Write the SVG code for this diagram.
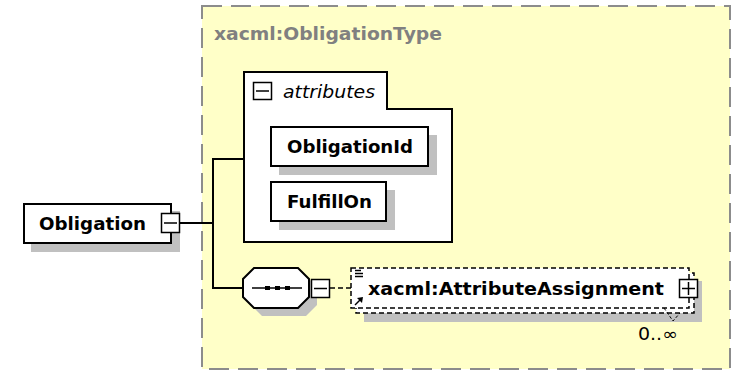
<svg xmlns="http://www.w3.org/2000/svg" width="734" height="371" viewBox="0 0 734 371">
  <style>
    .frame{fill:#ffffc8;stroke:#8c8c8c;stroke-width:2;stroke-dasharray:20 9}
    .box{fill:#fff;stroke:#000;stroke-width:2}
    .shadow{fill:#c0c0c0}
    .name{font-family:"DejaVu Sans",sans-serif;font-weight:bold;font-size:18px;fill:#000}
    .wire{fill:none;stroke:#000;stroke-width:2}
    .dashed{fill:#fff;stroke:#000;stroke-width:1.5;stroke-dasharray:5 3}
    .icon{fill:#fff;stroke:#000;stroke-width:1.5}
    .glyph{stroke:#000;stroke-width:1.5;fill:none}
  </style>

  <rect width="734" height="371" fill="#fff"/>

  <!-- complex type frame -->
  <g id="obligation-type">
    <rect class="frame" x="202" y="6" width="528" height="363"/>
    <text x="214" y="40" class="name" fill="#808080" style="fill:#808080" textLength="228" lengthAdjust="spacingAndGlyphs">xacml:ObligationType</text>
  </g>

  <!-- tree connectors -->
  <g id="connectors">
    <polyline class="wire" points="180,223 213,223"/>
    <polyline class="wire" points="243,159 213,159 213,288 243,288"/>
    <line x1="330" y1="288" x2="351" y2="288" stroke="#000" stroke-width="1.5" stroke-dasharray="5 3"/>
  </g>

  <!-- root element -->
  <g id="obligation">
    <rect class="shadow" x="31" y="211" width="149" height="41"/>
    <rect class="box" x="24" y="204" width="147" height="39"/>
    <text x="39" y="230" class="name" textLength="107" lengthAdjust="spacingAndGlyphs">Obligation</text>
    <rect class="icon" x="161.5" y="213.5" width="18" height="19"/>
    <line class="glyph" x1="164" y1="223" x2="177" y2="223"/>
  </g>

  <!-- attribute group -->
  <g id="attributes">
    <path class="box" d="M244,72 H387 V109 H452 V242 H244 Z"/>
    <rect class="icon" x="253.5" y="82.5" width="18" height="17"/>
    <line class="glyph" x1="256" y1="91" x2="269" y2="91"/>
    <text x="283" y="98" font-family="DejaVu Sans, sans-serif" font-style="italic" font-size="18" textLength="92" lengthAdjust="spacingAndGlyphs">attributes</text>
  </g>

  <g id="obligation-id">
    <rect class="shadow" x="279" y="135" width="158" height="40"/>
    <rect class="box" x="271" y="127" width="157" height="39"/>
    <text x="287" y="153" class="name" textLength="126" lengthAdjust="spacingAndGlyphs">ObligationId</text>
  </g>

  <g id="fulfill-on">
    <rect class="shadow" x="279" y="190" width="116" height="40"/>
    <rect class="box" x="271" y="182" width="115" height="39"/>
    <text x="287" y="208" class="name" textLength="85" lengthAdjust="spacingAndGlyphs">FulfillOn</text>
  </g>

  <!-- sequence compositor -->
  <g id="sequence">
    <polygon class="shadow" points="262,276 306,276 317,287 317,305 306,316 262,316 251,305 251,287"/>
    <polygon class="box" points="254,268 298,268 309,279 309,297 298,308 254,308 243,297 243,279"/>
    <line x1="252" y1="288" x2="302" y2="288" stroke="#000" stroke-width="1.5"/>
    <rect x="265" y="286" width="5" height="4" fill="#000"/>
    <rect x="275" y="286" width="5" height="4" fill="#000"/>
    <rect x="285" y="286" width="5" height="4" fill="#000"/>
    <rect class="icon" x="311.5" y="279.5" width="18" height="18"/>
    <line class="glyph" x1="314" y1="288.5" x2="327" y2="288.5"/>
  </g>

  <!-- repeated element reference -->
  <g id="attribute-assignment">
    <rect class="shadow" x="364" y="281" width="338" height="41"/>
    <rect class="dashed" x="356" y="273" width="338" height="40"/>
    <rect class="dashed" x="351" y="268" width="338" height="40"/>
    <line class="glyph" x1="355" y1="270.5" x2="361" y2="270.5" stroke-width="1.2"/>
    <line class="glyph" x1="355" y1="273.5" x2="363" y2="273.5" stroke-width="1.2"/>
    <line class="glyph" x1="355" y1="276.5" x2="363" y2="276.5" stroke-width="1.2"/>
    <line class="glyph" x1="355" y1="305" x2="361" y2="299"/>
    <polygon points="363,297 357,298 362,303" fill="#000"/>
    <text x="368" y="295" class="name" textLength="296" lengthAdjust="spacingAndGlyphs">xacml:AttributeAssignment</text>
    <rect class="icon" x="679.5" y="279.5" width="18" height="18"/>
    <line class="glyph" x1="682" y1="288.5" x2="695" y2="288.5"/>
    <line class="glyph" x1="688.5" y1="282" x2="688.5" y2="295"/>
    <polyline points="664,308 673,321 680,313" fill="none" stroke="#000" stroke-width="1" stroke-dasharray="3 2"/>
    <text x="638" y="340" font-family="DejaVu Sans, sans-serif" font-size="17" textLength="40" lengthAdjust="spacingAndGlyphs">0..∞</text>
  </g>
</svg>
